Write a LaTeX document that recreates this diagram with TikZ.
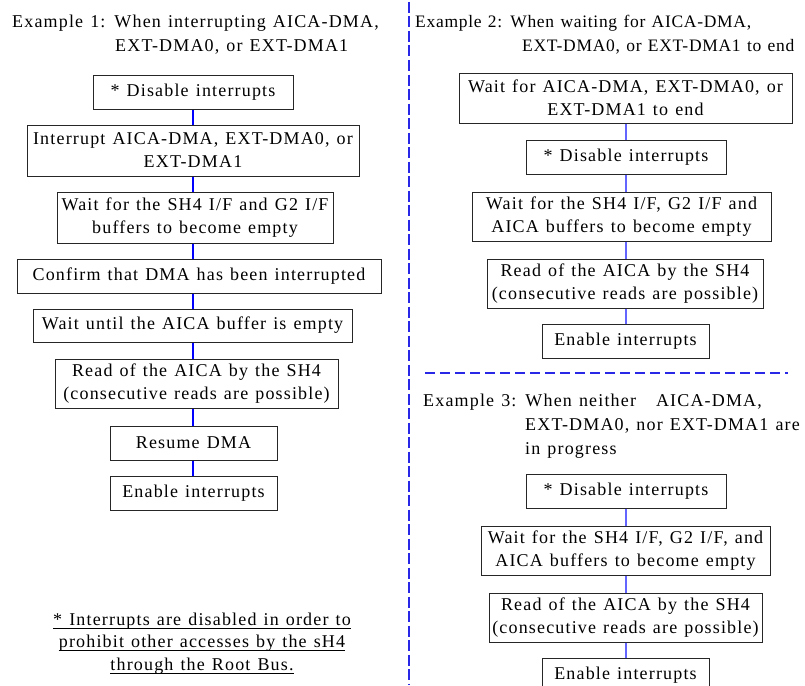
\documentclass[tikz,border=0pt]{standalone}
\usepackage{fontspec}
\setmainfont{Liberation Serif}[LetterSpace=6.5,WordSpace=1.25]
\definecolor{rblue}{RGB}{100,100,255}
\definecolor{dblue}{RGB}{40,40,230}
\begin{document}
\begin{tikzpicture}[x=1pt,y=-1pt,
  box/.style={draw=black!85, line width=1pt, align=center, inner sep=0pt,
    font=\fontsize{18}{23}\selectfont},
  lconn/.style={draw=blue, line width=1.2pt},
  rconn/.style={draw=rblue, line width=1.2pt},
  ttl/.style={anchor=base west, inner sep=0pt, font=\fontsize{18}{23}\selectfont},
  ttlb/.style={anchor=base west, inner sep=0pt,
    font=\fontsize{17.5}{23}\selectfont\addfontfeature{LetterSpace=4}},
  foot/.style={anchor=base, inner sep=0pt, font=\fontsize{18}{23}\selectfont},
  uline/.style={draw=black, line width=0.9pt},
  vsep/.style={draw=dblue, line width=1.5pt, dash pattern=on 11pt off 3.5pt},
  hsep/.style={draw=dblue, line width=1.5pt, dash pattern=on 10pt off 5pt}]
\useasboundingbox (0,0) rectangle (805,685);
\clip (0,0) rectangle (805,685);

% ---------- Example 1 ----------
\node[ttl] (t1a) at (12,28) {Example 1: When interrupting AICA-DMA,};
\node[ttl] (t1b) at (115,52) {EXT-DMA0, or EXT-DMA1};

\node[box, minimum width=200pt, minimum height=34pt] (L1) at (193,92) {* Disable interrupts};
\node[box, minimum width=332pt, minimum height=51pt] (L2) at (193,150.5) {Interrupt AICA-DMA, EXT-DMA0, or\\EXT-DMA1};
\node[box, minimum width=276pt, minimum height=51pt] (L3) at (195,217.5) {Wait for the SH4 I/F and G2 I/F\\buffers to become empty};
\node[box, minimum width=364pt, minimum height=34pt] (L4) at (199,276) {Confirm that DMA has been interrupted};
\node[box, minimum width=319pt, minimum height=33pt] (L5) at (192.5,325.5) {Wait until the AICA buffer is empty};
\node[box, minimum width=283pt, minimum height=49pt] (L6) at (196.5,383.5) {Read of the AICA by the SH4\\(consecutive reads are possible)};
\node[box, minimum width=167pt, minimum height=34pt] (L7) at (193.5,443) {Resume DMA};
\node[box, minimum width=167pt, minimum height=34pt] (L8) at (193.5,493) {Enable interrupts};

\draw[lconn] (L1.south) -- (L1.south |- L2.north);
\draw[lconn] (L1.south |- L2.south) -- (L1.south |- L3.north);
\draw[lconn] (L1.south |- L3.south) -- (L1.south |- L4.north);
\draw[lconn] (L1.south |- L4.south) -- (L1.south |- L5.north);
\draw[lconn] (L1.south |- L5.south) -- (L1.south |- L6.north);
\draw[lconn] (L1.south |- L6.south) -- (L1.south |- L7.north);
\draw[lconn] (L1.south |- L7.south) -- (L1.south |- L8.north);

% footnote
\node[foot] (f1) at (202,625) {* Interrupts are disabled in order to\ };
\node[foot] (f2) at (202,647) {prohibit other accesses by the sH4\ };
\node[foot] (f3) at (202,670) {through the Root Bus.};
\draw[uline] ([yshift=-3pt]f1.base west) -- ([yshift=-3pt]f1.base east);
\draw[uline] ([yshift=-3pt]f2.base west) -- ([yshift=-3pt]f2.base east);
\draw[uline] ([yshift=-3pt]f3.base west) -- ([yshift=-3pt]f3.base east);

% ---------- separators ----------
\coordinate (vtop) at (409,2);
\coordinate (vbot) at (409,685);
\draw[vsep] (vtop) -- (vbot);
\coordinate (hl) at (425,373);
\coordinate (hr) at (788,373);
\draw[hsep] (hl) -- (hr);

% ---------- Example 2 ----------
\node[ttlb] (t2a) at (415,28) {Example 2: When waiting for AICA-DMA,};
\node[ttlb] (t2b) at (522,52) {EXT-DMA0, or EXT-DMA1 to end};

\node[box, minimum width=333pt, minimum height=50pt] (R1) at (625.5,98) {Wait for AICA-DMA, EXT-DMA0, or\\EXT-DMA1 to end};
\node[box, minimum width=200pt, minimum height=34pt] (R2) at (626,157) {* Disable interrupts};
\node[box, minimum width=299pt, minimum height=49pt] (R3) at (621.5,216.5) {Wait for the SH4 I/F, G2 I/F and\\AICA buffers to become empty};
\node[box, minimum width=276pt, minimum height=49pt] (R4) at (625,283.5) {Read of the AICA by the SH4\\(consecutive reads are possible)};
\node[box, minimum width=167pt, minimum height=34pt] (R5) at (625.5,341) {Enable interrupts};

\draw[rconn] (R2.north |- R1.south) -- (R2.north);
\draw[rconn] (R2.south) -- (R2.south |- R3.north);
\draw[rconn] (R2.south |- R3.south) -- (R2.south |- R4.north);
\draw[rconn] (R2.south |- R4.south) -- (R2.south |- R5.north);

% ---------- Example 3 ----------
\node[ttl] (t3a) at (423,406) {Example 3: When neither\hspace{20pt}AICA-DMA,};
\node[ttl] (t3b) at (525,430) {EXT-DMA0, nor EXT-DMA1 are};
\node[ttl] (t3c) at (525,454) {in progress};

\node[box, minimum width=200pt, minimum height=34pt] (R6) at (626,491) {* Disable interrupts};
\node[box, minimum width=289pt, minimum height=49pt] (R7) at (625.5,550.5) {Wait for the SH4 I/F, G2 I/F, and\\AICA buffers to become empty};
\node[box, minimum width=273pt, minimum height=49pt] (R8) at (625.5,617.5) {Read of the AICA by the SH4\\(consecutive reads are possible)};
\node[box, minimum width=167pt, minimum height=34pt] (R9) at (625.5,675) {Enable interrupts};

\draw[rconn] (R6.south) -- (R6.south |- R7.north);
\draw[rconn] (R6.south |- R7.south) -- (R6.south |- R8.north);
\draw[rconn] (R6.south |- R8.south) -- (R6.south |- R9.north);
\end{tikzpicture}
\end{document}
